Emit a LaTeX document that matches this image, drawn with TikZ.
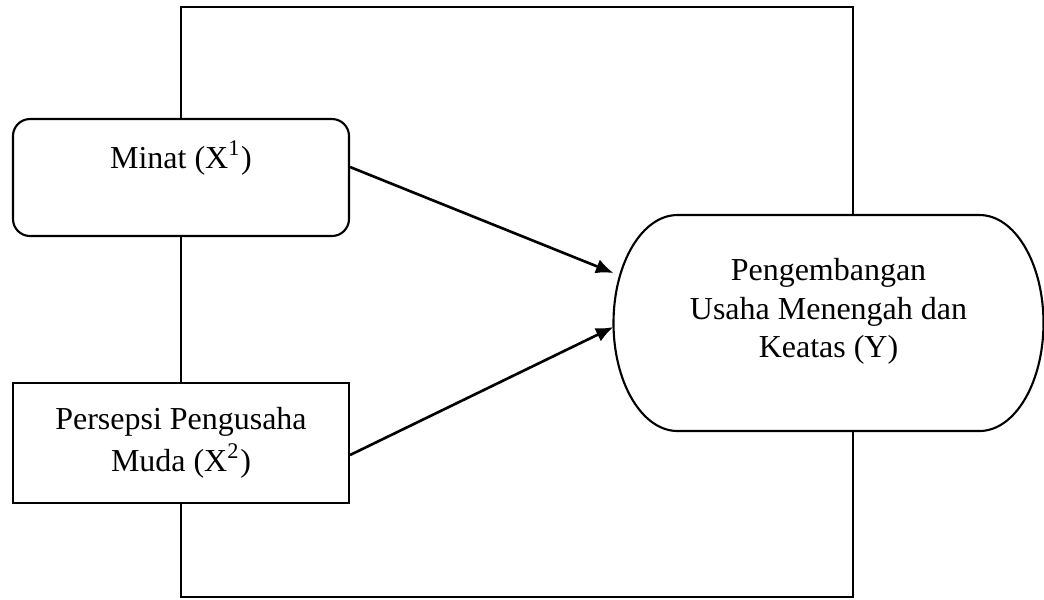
\documentclass[tikz,border=0pt]{standalone}
\usepackage{fontspec}
\setmainfont{Liberation Serif}
\usetikzlibrary{arrows.meta}

\begin{document}
\begin{tikzpicture}
    \tikzstyle{box} = [shape=rectangle, draw, fill=white, line width=0.6pt, align=center, minimum width=3.36cm, inner sep=0pt, font=\fontsize{9.1}{11}\selectfont]
    \tikzstyle{roundbox} = [box, rounded corners=0.17cm]
    \tikzstyle{arrow} = [line width=0.75pt, -{Latex[length=5pt,width=4.2pt]}]

    \useasboundingbox (0, 0) rectangle (10.44, -5.99);

    \draw[line width=0.6pt] (1.81, -0.07) rectangle (8.53, -5.97);

        \node[roundbox, minimum height=1.17cm] (minat) at (1.81, -1.775)
            {Minat (X\textsuperscript{1})\\[2pt] ~};
        \node[box, minimum height=1.20cm] (persepsi) at (1.81, -4.43)
            {Persepsi Pengusaha\\[1pt] Muda (X\textsuperscript{2})};

        % stadium with elliptic ends
        \node[minimum width=4.30cm, minimum height=2.16cm, inner sep=0pt, outer sep=0pt] (usaha) at (8.285, -3.23) {};
        \draw[line width=0.6pt, fill=white] ([xshift=0.64cm]usaha.north west) -- ([xshift=-0.64cm]usaha.north east)
            arc[start angle=90, end angle=-90, x radius=0.64cm, y radius=1.08cm]
            -- ([xshift=0.64cm]usaha.south west)
            arc[start angle=270, end angle=90, x radius=0.64cm, y radius=1.08cm] -- cycle;
        \node[align=center, font=\fontsize{9.1}{11}\selectfont] (usahatext) at ([yshift=1.15mm]usaha.center)
            {Pengembangan\\Usaha Menengah dan\\Keatas (Y)};

        \draw[arrow] ([yshift=1.05mm]minat.east) -- ([yshift=5mm]usaha.west);
        \draw[arrow] ([yshift=-1.2mm]persepsi.east) -- ([yshift=-0.4mm]usaha.west);

\end{tikzpicture}
\end{document}
